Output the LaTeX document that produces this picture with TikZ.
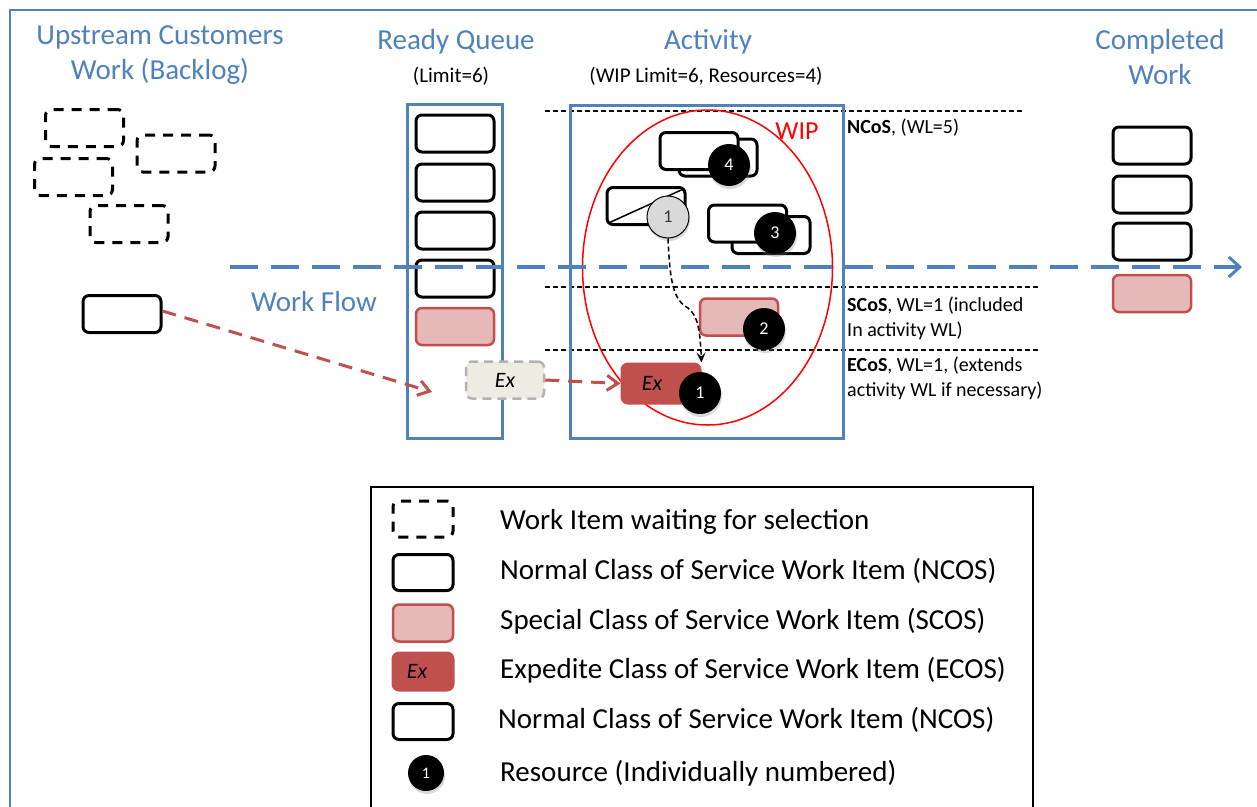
\documentclass[tikz,border=0pt]{standalone}
\usepackage{fontspec}
\setmainfont{Carlito}
\usetikzlibrary{arrows.meta,shadows}
\definecolor{kblue}{HTML}{4F81BD}
\definecolor{kred}{HTML}{C0504D}
\definecolor{kpink}{HTML}{E6B9B8}
\definecolor{kghost}{HTML}{EEECE1}
\definecolor{kgray}{HTML}{D9D9D9}
\newcommand\setfs[2]{\fontsize{#1}{#2}\selectfont}
\tikzset{
  item/.style={rounded corners=6pt, minimum width=78pt, minimum height=37pt, inner sep=0pt, line width=3pt},
  nbox/.style={item, draw=black, fill=white},
  dbox/.style={item, draw=black, dash pattern=on 10pt off 8pt},
  sbox/.style={item, draw=kred, fill=kpink, line width=2.5pt},
  ebox/.style={item, draw=kred, fill=kred, font=\setfs{22}{24}\itshape, text=black},
  gbox/.style={item, draw=black!30, fill=kghost, dash pattern=on 9pt off 6pt, line width=2.5pt, font=\setfs{22}{24}\itshape},
  res/.style={circle, fill=black, minimum size=42pt, inner sep=0pt, text=white, font=\setfs{18}{20}, drop shadow={opacity=0.3, shadow xshift=1pt, shadow yshift=-3pt}},
  gres/.style={res, fill=kgray, draw=black, line width=1pt, text=black!80},
  title/.style={text=kblue, font=\setfs{29}{35}, align=center, inner sep=0pt},
  small/.style={font=\setfs{21}{25}, inner sep=0pt},
  side/.style={font=\setfs{20}{25}, align=left, anchor=west, inner sep=0pt},
  legtext/.style={font=\setfs{29}{32}, anchor=west, inner sep=0pt},
  sep/.style={black, line width=1.3pt, dash pattern=on 5pt off 3pt},
  flow/.style={kblue, line width=4pt, dash pattern=on 28pt off 13pt, -{Straight Barb[length=11pt,width=20pt,line width=3pt]}},
  redflow/.style={kred, line width=3pt, dash pattern=on 14pt off 9pt, -{Straight Barb[length=11pt,width=15pt]}},
  bluebox/.style={draw=kblue, line width=3pt, inner sep=0pt}
}
\begin{document}
\begin{tikzpicture}[x=1pt,y=-1pt]
\useasboundingbox (0,0) rectangle (1257,806);
% outer frame
\draw[kblue, line width=2.5pt] (10,820) -- (10,10) -- (1270,10);

% titles
\node[title] (t1) at (160,55) {Upstream Customers\\Work (Backlog)};
\node[title] (t2) at (456,42) {Ready Queue};
\node[small] (t2b) at (451,76) {(Limit=6)};
\node[title] (t3) at (708,42) {Activity};
\node[small] (t3b) at (706,76) {(WIP Limit=6, Resources=4)};
\node[title] (t4) at (1160,57) {Completed\\Work};
\node[title] (wf) at (314,302) {Work Flow};

% backlog
\node[dbox] (b1) at (84.5,128) {};
\node[dbox] (b2) at (176,153.5) {};
\node[dbox] (b3) at (73.5,177) {};
\node[dbox] (b4) at (129,224) {};
\node[nbox] (n0) at (122,314) {};

% ready queue
\node[bluebox, minimum width=95pt, minimum height=334pt] (q) at (454.5,271) {};
\node[nbox] (q1) at (455,133.5) {};
\node[nbox] (q2) at (455,182.5) {};
\node[nbox] (q3) at (455,230.5) {};
\node[nbox] (q4) at (455,278.5) {};
\node[sbox] (q5) at (455,326.5) {};
\node[gbox] (gx) at (505,380) {Ex};

% separators
\coordinate (s1a) at (545,111); \coordinate (s1b) at (1023,111);
\coordinate (s2a) at (545,287); \coordinate (s2b) at (1038,287);
\coordinate (s3a) at (545,350); \coordinate (s3b) at (1038,350);
\draw[sep] (s1a) -- (s1b);
\draw[sep] (s2a) -- (s2b);
\draw[sep] (s3a) -- (s3b);

% activity
\node[bluebox, minimum width=273pt, minimum height=333pt] (act) at (706.5,271.5) {};
\draw[red, line width=1.5pt] (707.5,267.5) ellipse [x radius=125pt, y radius=157.5pt];
\node[text=red, font=\setfs{26}{28}, inner sep=0pt] (wip) at (797,131) {WIP};

\node[nbox] (a4b) at (718,157.5) {};
\node[nbox] (a4a) at (699,151) {};
\node[res] (r4) at (729,165) {4};

\node[nbox] (a1) at (646,206) {};
\draw[line width=1.5pt] ([shift={(3pt,3pt)}]a1.south west) -- ([shift={(-3pt,-3pt)}]a1.north east);
\node[gres] (r1) at (668,217) {1};

\node[nbox] (a3b) at (771,235) {};
\node[nbox] (a3a) at (747.5,223.5) {};
\node[res] (r3) at (775,233) {3};

\node[sbox] (as) at (739,317) {};
\node[res] (r2) at (764,329) {2};

\node[ebox, minimum height=39pt] (ae) at (661,383.5) {\hspace*{-18pt}Ex};
\node[res] (re) at (700,393) {1};

\draw[black, line width=1.5pt, dash pattern=on 5pt off 3pt, -{Stealth[length=10pt,width=9pt,inset=4pt]}]
  (r1.south) .. controls (670,285) and (674,300) .. (688,308)
  .. controls (698,316) and (700,330) .. (ae.north east);

% right texts
\node[side] (nc) at (847,128) {\textbf{NCoS}, (WL=5)};
\node[side] (sc) at (847,318) {\textbf{SCoS}, WL=1 (included\\In activity WL)};
\node[side] (ec) at (847,378) {\textbf{ECoS}, WL=1, (extends\\activity WL if necessary)};

% completed
\node[nbox] (c1) at (1152,145.5) {};
\node[nbox] (c2) at (1152,194.5) {};
\node[nbox] (c3) at (1152,241.5) {};
\node[sbox] (c4) at (1152,293.5) {};

% flows
\coordinate (wfs) at (230,267);
\coordinate (wfe) at (1242,267);
\draw[flow] (wfs) -- (wfe);
\coordinate (rq) at (432,392);
\draw[redflow] (n0.east) ++(0,-3) -- (rq);
\draw[redflow] (gx.east) -- (ae.west);

% legend
\draw[black, line width=1.3pt] (371,820) -- (371,487) -- (1033,487) -- (1033,820);
\node[dbox, minimum width=60pt, minimum height=36pt] (l1) at (423,519) {};
\node[nbox, minimum width=60pt, minimum height=36pt] (l2) at (423,572.5) {};
\node[sbox, minimum width=60pt, minimum height=37pt] (l3) at (423,623) {};
\node[ebox, minimum width=60pt, minimum height=37pt] (l4) at (423,671.5) {\hspace*{-12pt}Ex};
\node[nbox, minimum width=60pt, minimum height=36pt] (l5) at (423,721.5) {};
\node[res, minimum size=36pt, font=\setfs{16}{18}] (l6) at (426,773) {1};
\node[legtext] (lt1) at (500,522) {Work Item waiting for selection};
\node[legtext] (lt2) at (500,571) {Normal Class of Service Work Item (NCOS)};
\node[legtext] (lt3) at (500,621) {Special Class of Service Work Item (SCOS)};
\node[legtext] (lt4) at (500,670) {Expedite Class of Service Work Item (ECOS)};
\node[legtext] (lt5) at (498,720) {Normal Class of Service Work Item (NCOS)};
\node[legtext] (lt6) at (500,773) {Resource (Individually numbered)};
\end{tikzpicture}
\end{document}
